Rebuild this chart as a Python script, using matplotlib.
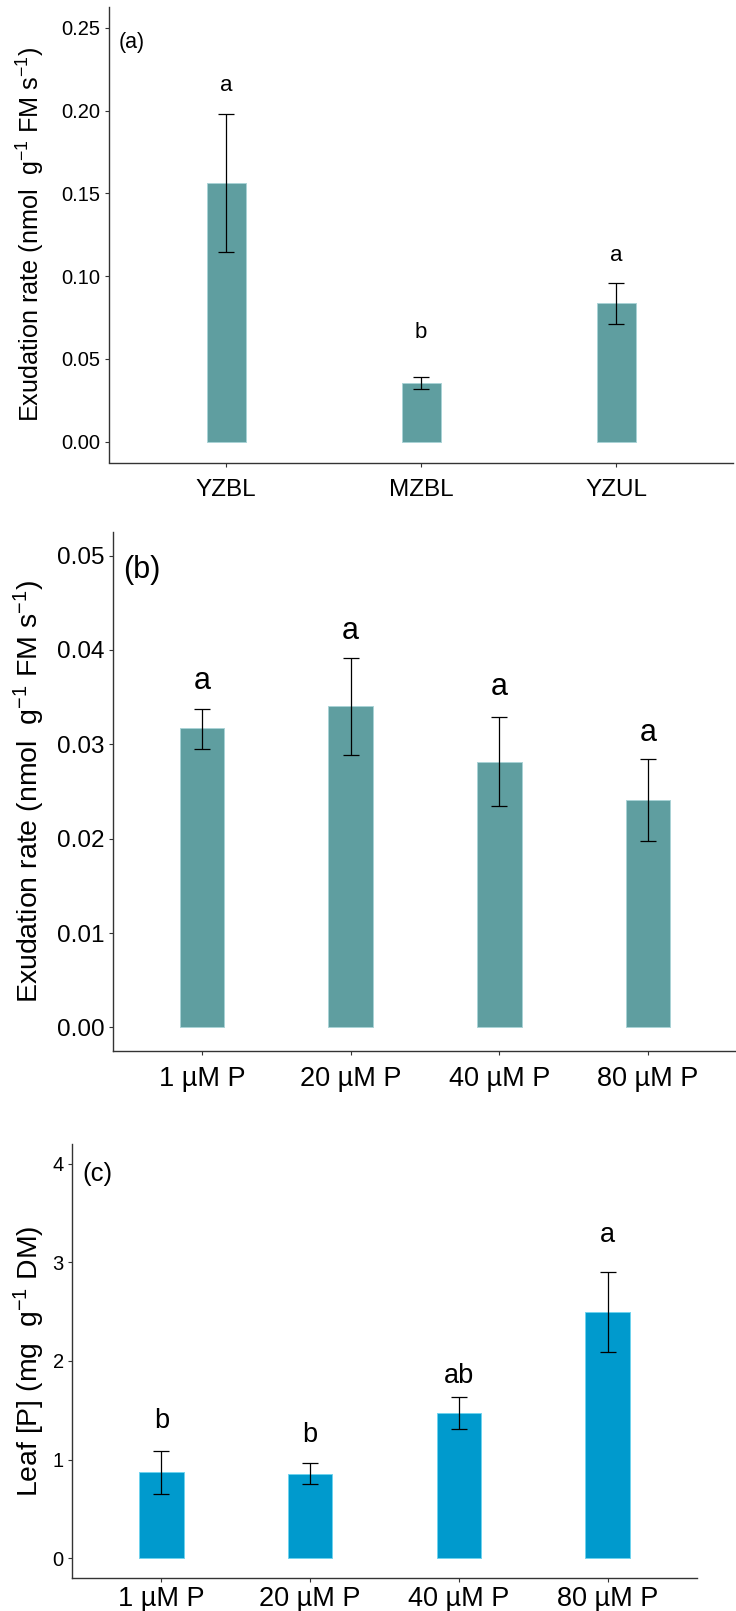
import matplotlib
matplotlib.use('Agg')
import matplotlib.pyplot as plt
import numpy as np

plt.rcParams['font.family'] = ['Liberation Sans', 'DejaVu Sans']
plt.rcParams['mathtext.fontset'] = 'custom'
plt.rcParams['mathtext.rm'] = 'Liberation Sans'
plt.rcParams['mathtext.it'] = 'Liberation Sans:italic'
plt.rcParams['mathtext.bf'] = 'Liberation Sans:bold'

# panel (a) - exudation rate by genotype
cats_a = ['YZBL', 'MZBL', 'YZUL']
mean_a = [0.1562, 0.0357, 0.0836]
low_a = [0.1145, 0.0317, 0.0714]
high_a = [0.198, 0.0392, 0.0959]
let_a = ['a', 'b', 'a']
let_y_a = [0.215, 0.0658, 0.1127]

# panel (b) - exudation rate by P supply
cats_p = ['1 µM P', '20 µM P', '40 µM P', '80 µM P']
mean_b = [0.03168, 0.03409, 0.02815, 0.02414]
low_b = [0.0295, 0.02884, 0.02349, 0.01977]
high_b = [0.03376, 0.03918, 0.03292, 0.0284]
let_b = ['a', 'a', 'a', 'a']
let_y_b = [0.0367, 0.042, 0.03605, 0.03125]

# panel (c) - leaf P
mean_c = [0.877, 0.856, 1.474, 2.501]
low_c = [0.650, 0.748, 1.31, 2.093]
high_c = [1.086, 0.964, 1.638, 2.907]
let_c = ['b', 'b', 'ab', 'a']
let_y_c = [1.39, 1.25, 1.85, 3.28]

ylab_exu = r'Exudation rate (nmol  g$^{-1}$ FM s$^{-1}$)'
ylab_leaf = r'Leaf [P] (mg  g$^{-1}$ DM)'

W, H = 736, 1611
fig = plt.figure(figsize=(W / 100, H / 100), dpi=100)


def panel(rect, cats, mean, low, high, letters, let_y, color, edge, width,
          ylim, yticks, fmt, tag, sizes, xpad, ylab, ylab_x):
    l, t, r, b = rect
    ax = fig.add_axes([l / W, 1 - b / H, (r - l) / W, (b - t) / H])
    x = np.arange(len(cats))
    mean = np.array(mean)
    ax.bar(x, mean, width=width, color=color, edgecolor=edge, linewidth=0.7)
    ax.errorbar(x, mean, yerr=[mean - np.array(low), np.array(high) - mean],
                fmt='none', ecolor='black', elinewidth=0.9, capsize=6, capthick=0.9)
    for xi, s, yy in zip(x, letters, let_y):
        ax.text(xi, yy, s, ha='center', va='center', fontsize=sizes['let'])
    ax.text(0.016, tag[1], tag[0], transform=ax.transAxes, ha='left', va='center',
            fontsize=sizes['tag'])
    ax.set_xlim(-0.6, len(cats) - 0.4)
    ax.set_ylim(*ylim)
    ax.set_yticks(yticks)
    ax.set_yticklabels([fmt.format(v) for v in yticks], fontsize=sizes['yt'])
    ax.set_xticks(x)
    ax.set_xticklabels(cats, fontsize=sizes['xt'])
    for s in ['top', 'right']:
        ax.spines[s].set_visible(False)
    for s in ['left', 'bottom']:
        ax.spines[s].set_color('#333333')
        ax.spines[s].set_linewidth(1.0)
    ax.tick_params(axis='both', length=3, width=0.8, color='#333333')
    ax.tick_params(axis='y', pad=3)
    ax.tick_params(axis='x', pad=xpad)
    ax.set_ylabel(ylab, fontsize=sizes['lab'])
    ax.yaxis.set_label_coords(ylab_x, 0.5)
    return ax


panel((109, 7, 733, 462.5), cats_a, mean_a, low_a, high_a, let_a, let_y_a,
      '#5F9EA0', '#a9d3d6', 0.2, (-0.0125, 0.2625),
      [0, 0.05, 0.10, 0.15, 0.20, 0.25], '{:.2f}', ('(a)', 0.923),
      dict(let=16, tag=15.5, yt=14.5, xt=17.5, lab=18.2), 9, ylab_exu, -0.099)

panel((113, 532, 737, 1051), cats_p, mean_b, low_b, high_b, let_b, let_y_b,
      '#5F9EA0', '#a9d3d6', 0.3, (-0.0025, 0.0525),
      [0, 0.01, 0.02, 0.03, 0.04, 0.05], '{:.2f}', ('(b)', 0.927),
      dict(let=22, tag=22, yt=17.5, xt=19.5, lab=20.5), 8, ylab_exu, -0.106)

panel((72, 1144, 697, 1578), cats_p, mean_c, low_c, high_c, let_c, let_y_c,
      '#009ACD', '#6fd3ee', 0.3, (-0.2, 4.2),
      [0, 1, 2, 3, 4], '{:.0f}', ('(c)', 0.932),
      dict(let=19.5, tag=18.5, yt=14.5, xt=19.5, lab=20.4), 3, ylab_leaf, -0.04)

fig.savefig('out.png', dpi=100)
